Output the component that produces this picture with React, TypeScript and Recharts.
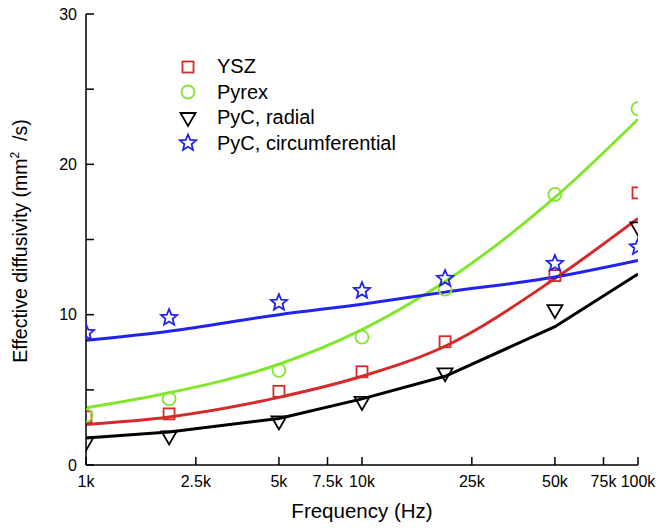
import React from "react"
import { ComposedChart, Line, Scatter, XAxis, YAxis, Legend, Label } from "recharts"

const freqs = [1000, 2000, 5000, 10000, 20000, 50000, 100000]
const yszMeas = [3.2, 3.4, 4.9, 6.2, 8.2, 12.6, 18.1]
const yszFit = [2.7, 3.2, 4.5, 5.9, 7.9, 12.4, 16.4]
const pyrexMeas = [3.3, 4.4, 6.3, 8.5, 11.7, 18.0, 23.7]
const pyrexFit = [3.8, 4.8, 6.7, 9.0, 12.2, 17.8, 23.0]
const radialMeas = [1.5, 1.9, 2.9, 4.2, 6.1, 10.3, 15.8]
const radialFit = [1.8, 2.2, 3.1, 4.4, 5.9, 9.2, 12.7]
const circMeas = [8.8, 9.8, 10.8, 11.6, 12.4, 13.4, 14.5]
const circFit = [8.3, 8.9, 10.0, 10.7, 11.5, 12.5, 13.6]

const xTicks = [1000, 2500, 5000, 7500, 10000, 25000, 50000, 75000, 100000]
const xTickLabels = ["1k", "2.5k", "5k", "7.5k", "10k", "25k", "50k", "75k", "100k"]
const yTicks = [0, 5, 10, 15, 20, 25, 30]
const yLabelled = [0, 10, 20, 30]

const RED = "#d42a2a"
const GREEN = "#82e62e"
const BLACK = "#000000"
const BLUE = "#2222ee"
const FONT = "'Liberation Sans', Arial, sans-serif"

const rows = freqs.map((f, i) => ({
  f,
  ysz: yszMeas[i],
  yszFit: yszFit[i],
  pyrex: pyrexMeas[i],
  pyrexFit: pyrexFit[i],
  radial: radialMeas[i],
  radialFit: radialFit[i],
  circ: circMeas[i],
  circFit: circFit[i],
}))

const Square = ({ cx, cy }: any) => (
  <rect x={cx - 5.5} y={cy - 5.5} width={11} height={11} fill="none" stroke={RED} strokeWidth={1.8} />
)
const Circle = ({ cx, cy }: any) => <circle cx={cx} cy={cy} r={6.5} fill="none" stroke={GREEN} strokeWidth={1.8} />
const TriDown = ({ cx, cy }: any) => (
  <path d={`M${cx - 7.5},${cy - 5} L${cx + 7.5},${cy - 5} L${cx},${cy + 8} Z`} fill="none" stroke={BLACK} strokeWidth={1.8} />
)
const Star = ({ cx, cy }: any) => {
  const pts: string[] = []
  for (let k = 0; k < 10; k++) {
    const r = k % 2 === 0 ? 8.5 : 3.8
    const a = -Math.PI / 2 + (k * Math.PI) / 5
    pts.push(`${cx + r * Math.cos(a)},${cy + r * Math.sin(a)}`)
  }
  return <polygon points={pts.join(" ")} fill="none" stroke={BLUE} strokeWidth={1.8} strokeLinejoin="miter" />
}

const legendItems = [
  { name: "YSZ", Icon: Square },
  { name: "Pyrex", Icon: Circle },
  { name: "PyC, radial", Icon: TriDown },
  { name: "PyC, circumferential", Icon: Star },
]

const LegendBox = () => (
  <div style={{ fontFamily: FONT, fontSize: 20, color: "#000" }}>
    {legendItems.map(({ name, Icon }) => (
      <div key={name} style={{ display: "flex", alignItems: "center", height: 25.5 }}>
        <svg width={20} height={22} style={{ display: "block" }}>
          <Icon cx={10} cy={11} />
        </svg>
        <span style={{ marginLeft: 19, lineHeight: "25.5px" }}>{name}</span>
      </div>
    ))}
  </div>
)

const BottomTick = ({ x, y, payload }: any) => {
  const i = xTicks.indexOf(payload.value)
  return (
    <g>
      <line x1={x} y1={y} x2={x} y2={y - 8} stroke="#000" strokeWidth={1.5} />
      <text x={x} y={y + 22} textAnchor="middle" fontFamily={FONT} fontSize={16} fill="#000">
        {xTickLabels[i]}
      </text>
    </g>
  )
}
const TopTick = ({ x, y }: any) => <line x1={x} y1={y} x2={x} y2={y + 8} stroke="#000" strokeWidth={1.5} />
const LeftTick = ({ x, y, payload }: any) => (
  <g>
    <line x1={x} y1={y} x2={x + 8} y2={y} stroke="#000" strokeWidth={1.5} />
    {yLabelled.includes(payload.value) && (
      <text x={x - 9} y={y + 5.5} textAnchor="end" fontFamily={FONT} fontSize={16} fill="#000">
        {payload.value}
      </text>
    )}
  </g>
)
const RightTick = ({ x, y }: any) => <line x1={x} y1={y} x2={x - 8} y2={y} stroke="#000" strokeWidth={1.5} />

const axisLine = { stroke: "#000", strokeWidth: 1.5 }

export default function App() {
  return (
    <div style={{ position: "absolute", left: 0, top: 0, width: 659, height: 528, background: "#fff" }}>
      <ComposedChart width={659} height={528} data={rows} margin={{ top: 14, right: 21, left: 0, bottom: 0 }}>
        <XAxis
          dataKey="f"
          type="number"
          scale="log"
          domain={[1000, 100000]}
          ticks={xTicks}
          allowDataOverflow
          height={63}
          tickSize={0}
          tickMargin={0}
          tickLine={false}
          axisLine={axisLine}
          tick={<BottomTick />}
          interval={0}
        >
          <Label
            content={({ viewBox }: any) => (
              <text x={viewBox.x + viewBox.width / 2} y={viewBox.y + 53} textAnchor="middle" fontFamily={FONT} fontSize={20.5} fill="#000">
                Frequency (Hz)
              </text>
            )}
          />
        </XAxis>
        <XAxis
          xAxisId="top"
          orientation="top"
          type="number"
          scale="log"
          domain={[1000, 100000]}
          ticks={xTicks}
          allowDataOverflow
          height={0}
          tickSize={0}
          tickMargin={0}
          tickLine={false}
          axisLine={axisLine}
          tick={<TopTick />}
          interval={0}
        />
        <YAxis
          type="number"
          domain={[0, 30]}
          ticks={yTicks}
          width={86}
          tickSize={0}
          tickMargin={0}
          tickLine={false}
          axisLine={axisLine}
          tick={<LeftTick />}
          interval={0}
        >
          <Label
            content={() => {
              const cx = 27
              const cy = 241
              return (
                <text x={cx} y={cy} transform={`rotate(-90 ${cx} ${cy})`} textAnchor="middle" fontFamily={FONT} fontSize={19.5} fill="#000">
                  Effective diffusivity (mm
                  <tspan fontSize={12} dy={-8}>2</tspan>
                  <tspan dy={8}>{"\u00a0 /s)"}</tspan>
                </text>
              )
            }}
          />
        </YAxis>
        <YAxis
          yAxisId="right"
          orientation="right"
          type="number"
          domain={[0, 30]}
          ticks={yTicks}
          width={0}
          tickSize={0}
          tickMargin={0}
          tickLine={false}
          axisLine={axisLine}
          tick={<RightTick />}
          interval={0}
        />
        <Legend
          layout="vertical"
          align="center"
          verticalAlign="middle"
          content={() => <LegendBox />}
          wrapperStyle={{ left: 178, top: 54, width: "auto" }}
        />
        <Line type="monotone" dataKey="pyrexFit" stroke={GREEN} strokeWidth={3} dot={false} isAnimationActive={false} legendType="none" />
        <Line type="monotone" dataKey="yszFit" stroke={RED} strokeWidth={3} dot={false} isAnimationActive={false} legendType="none" />
        <Line type="linear" dataKey="radialFit" stroke={BLACK} strokeWidth={3} dot={false} isAnimationActive={false} legendType="none" />
        <Line type="monotone" dataKey="circFit" stroke={BLUE} strokeWidth={3} dot={false} isAnimationActive={false} legendType="none" />
        <Scatter dataKey="ysz" name="YSZ" shape={(p: any) => <Square cx={p.cx} cy={p.cy} />} isAnimationActive={false} />
        <Scatter dataKey="pyrex" name="Pyrex" shape={(p: any) => <Circle cx={p.cx} cy={p.cy} />} isAnimationActive={false} />
        <Scatter dataKey="radial" name="PyC, radial" shape={(p: any) => <TriDown cx={p.cx} cy={p.cy} />} isAnimationActive={false} />
        <Scatter dataKey="circ" name="PyC, circumferential" shape={(p: any) => <Star cx={p.cx} cy={p.cy} />} isAnimationActive={false} />
      </ComposedChart>
    </div>
  )
}
